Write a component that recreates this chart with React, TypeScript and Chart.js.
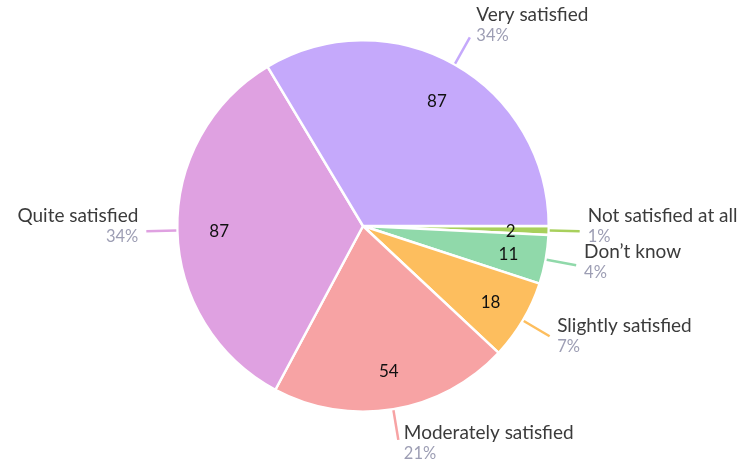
import React, { useEffect, useRef } from "react";
import { Chart, registerables } from "chart.js";

Chart.register(...registerables);

// Clockwise order starting from 3 o'clock
const categories = [
  "Not satisfied at all",
  "Don’t know",
  "Slightly satisfied",
  "Moderately satisfied",
  "Quite satisfied",
  "Very satisfied",
];
const counts = [2, 11, 18, 54, 87, 87];
const colors = ["#a8d05c", "#90d9aa", "#fdbe5e", "#f7a3a4", "#dfa1e1", "#c5a9fb"];

const FONT = "Lato, 'Open Sans', sans-serif";

const labelPlugin = {
  id: "pieLabels",
  afterDatasetsDraw(chart: any) {
    const ctx = chart.ctx;
    const meta = chart.getDatasetMeta(0);
    const total = counts.reduce((a, b) => a + b, 0);
    meta.data.forEach((arc: any, i: number) => {
      const { x, y, startAngle, endAngle, outerRadius } = arc.getProps(
        ["x", "y", "startAngle", "endAngle", "outerRadius"],
        true
      );
      const mid = (startAngle + endAngle) / 2;
      const c = Math.cos(mid);
      const s = Math.sin(mid);
      // value inside
      const r1 = outerRadius * 0.785;
      ctx.save();
      ctx.fillStyle = "#111";
      ctx.font = `17px ${FONT}`;
      ctx.textAlign = "center";
      ctx.textBaseline = "middle";
      ctx.fillText(String(counts[i]), x + c * r1 + 2, y + s * r1 + 2);
      // leader line
      const rs = outerRadius + 1;
      const re = outerRadius + 31;
      const ex = x + c * re;
      const ey = y + s * re;
      ctx.strokeStyle = colors[i];
      ctx.lineWidth = 2.5;
      ctx.beginPath();
      ctx.moveTo(x + c * rs, y + s * rs);
      ctx.lineTo(ex, ey);
      ctx.stroke();
      // text block
      const right = c >= 0;
      const tx = right ? ex + 5 + 3 * Math.abs(c) : ex - 8;
      const base = ey - 9 + 8.5 * s;
      ctx.textAlign = right ? "left" : "right";
      ctx.textBaseline = "alphabetic";
      ctx.fillStyle = "#3b3b3b";
      ctx.font = `19px ${FONT}`;
      ctx.fillText(categories[i], tx, base);
      ctx.fillStyle = "#9d9eb4";
      ctx.font = `16.5px ${FONT}`;
      const pct = Math.round((counts[i] / total) * 100);
      ctx.fillText(pct + "%", tx, base + 20);
      ctx.restore();
    });
  },
};

export default function App() {
  const ref = useRef<HTMLCanvasElement>(null);
  useEffect(() => {
    if (!ref.current) return;
    const chart = new Chart(ref.current, {
      type: "pie",
      data: {
        labels: categories,
        datasets: [
          {
            data: counts,
            backgroundColor: colors,
            borderColor: "#ffffff",
            borderWidth: 2.5,
          },
        ],
      },
      options: {
        responsive: false,
        animation: false,
        rotation: 90,
        layout: { padding: { left: 176, right: 195, top: 39, bottom: 50 } },
        plugins: { legend: { display: false }, tooltip: { enabled: false } },
      },
      plugins: [labelPlugin],
    });
    return () => chart.destroy();
  }, []);
  return (
    <div style={{ position: "fixed", left: 0, top: 0, width: 745, height: 463, background: "#fff" }}>
      <canvas ref={ref} width={745} height={463} style={{ display: "block" }} />
    </div>
  );
}
